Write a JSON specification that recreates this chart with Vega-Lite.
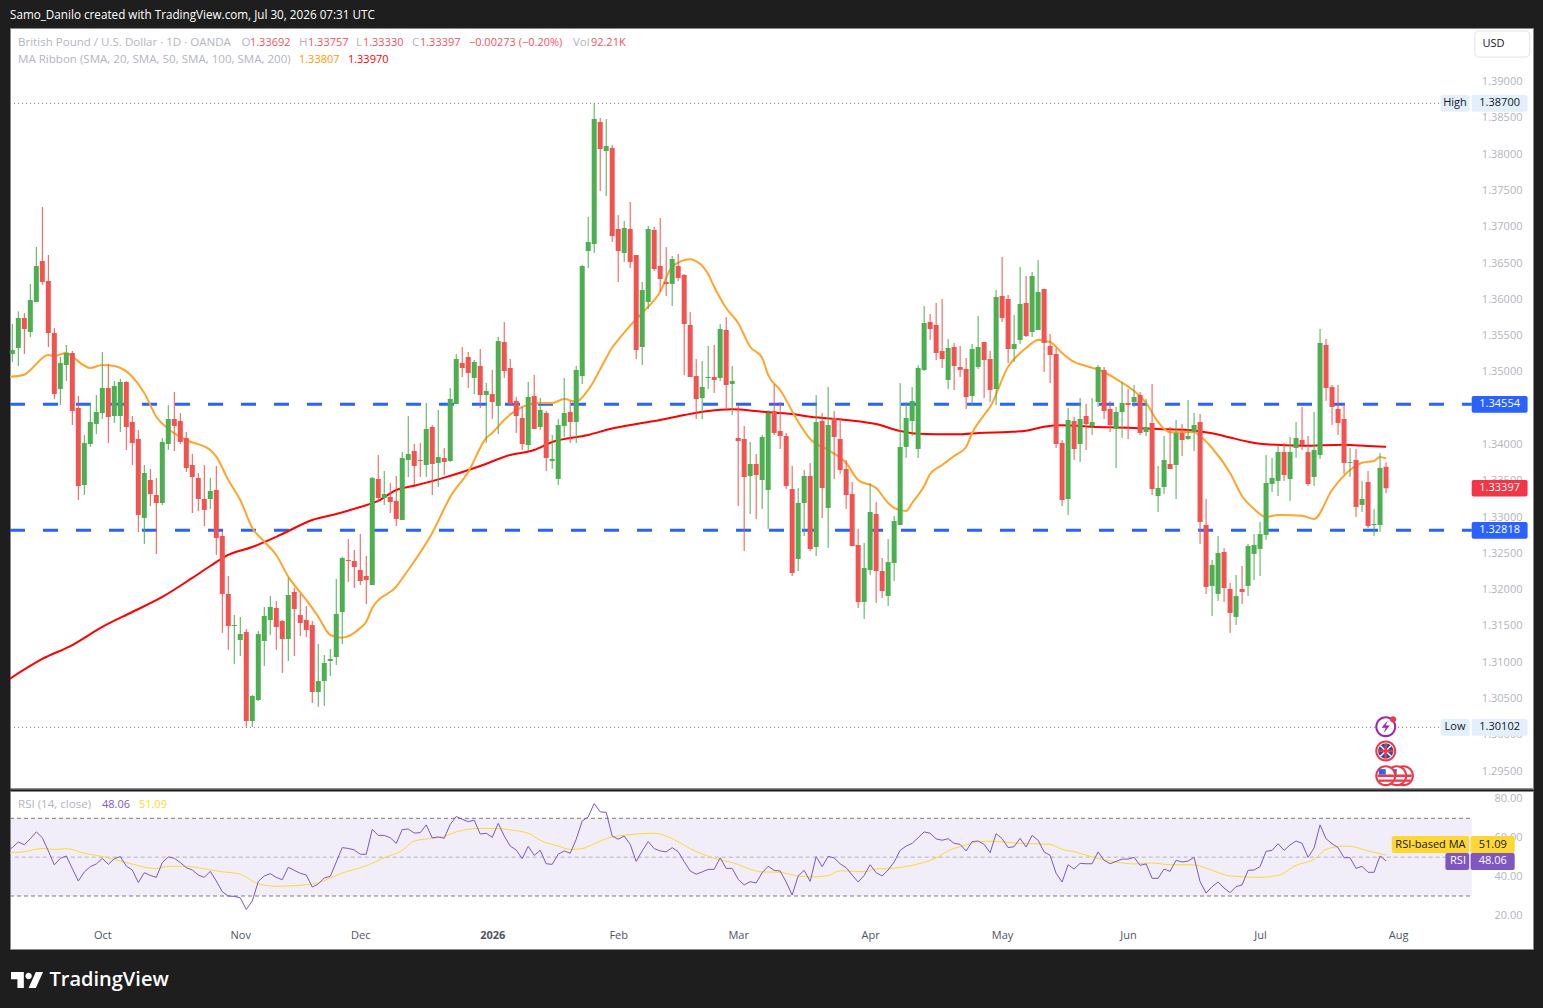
{
"$schema":"https://vega.github.io/schema/vega-lite/v6.json",
"background":"#1e1e1e",
"padding":{"left":7,"right":9,"top":9,"bottom":0},
"title":{"text":"Samo_Danilo created with TradingView.com, Jul 30, 2026 07:31 UTC","anchor":"start","frame":"group","color":"#ffffff","font":"Open Sans","fontSize":11.7,"fontWeight":"normal","offset":6},
"spacing":0,
"config":{"font":"Open Sans","axis":{"grid":false,"ticks":false,"domain":false},"axisX":{"labels":false},"concat":{"spacing":0},"text":{"font":"Open Sans","fontSize":11}},
"datasets":{
"candles":[
{"i":0,"open":1.35247,"high":1.3566,"low":1.35137,"close":1.35302},
{"i":1,"open":1.3533,"high":1.35835,"low":1.35082,"close":1.35743},
{"i":2,"open":1.35743,"high":1.35812,"low":1.35247,"close":1.35592},
{"i":3,"open":1.3555,"high":1.36212,"low":1.35481,"close":1.35991},
{"i":4,"open":1.35964,"high":1.36721,"low":1.35964,"close":1.3646},
{"i":5,"open":1.36528,"high":1.37273,"low":1.36198,"close":1.36239},
{"i":6,"open":1.36253,"high":1.36611,"low":1.35343,"close":1.35536},
{"i":7,"open":1.35536,"high":1.35605,"low":1.34627,"close":1.34696},
{"i":8,"open":1.34765,"high":1.35206,"low":1.34544,"close":1.35123},
{"i":9,"open":1.35095,"high":1.35371,"low":1.34875,"close":1.35261},
{"i":10,"open":1.35261,"high":1.35288,"low":1.34269,"close":1.34462},
{"i":11,"open":1.34503,"high":1.34668,"low":1.33235,"close":1.33428},
{"i":12,"open":1.33442,"high":1.34131,"low":1.33304,"close":1.34021},
{"i":13,"open":1.34007,"high":1.34572,"low":1.33966,"close":1.3431},
{"i":14,"open":1.34283,"high":1.34682,"low":1.34145,"close":1.34448},
{"i":15,"open":1.34434,"high":1.35275,"low":1.34351,"close":1.34779},
{"i":16,"open":1.34779,"high":1.35109,"low":1.34021,"close":1.34379},
{"i":17,"open":1.34393,"high":1.34875,"low":1.34296,"close":1.34806},
{"i":18,"open":1.34393,"high":1.34903,"low":1.34172,"close":1.34861},
{"i":19,"open":1.34861,"high":1.34875,"low":1.33924,"close":1.34241},
{"i":20,"open":1.3431,"high":1.34393,"low":1.33718,"close":1.34021},
{"i":21,"open":1.34076,"high":1.342,"low":1.32794,"close":1.33029},
{"i":22,"open":1.32987,"high":1.33718,"low":1.32629,"close":1.33607},
{"i":23,"open":1.33511,"high":1.33662,"low":1.33153,"close":1.33318},
{"i":24,"open":1.33304,"high":1.33538,"low":1.32491,"close":1.33194},
{"i":25,"open":1.33194,"high":1.3409,"low":1.33166,"close":1.34035},
{"i":26,"open":1.34007,"high":1.34544,"low":1.33924,"close":1.34351},
{"i":27,"open":1.34351,"high":1.34723,"low":1.3391,"close":1.34255},
{"i":28,"open":1.34324,"high":1.34434,"low":1.34007,"close":1.34035},
{"i":29,"open":1.3409,"high":1.34172,"low":1.33621,"close":1.33676},
{"i":30,"open":1.33718,"high":1.33869,"low":1.33056,"close":1.33552},
{"i":31,"open":1.33538,"high":1.33607,"low":1.33084,"close":1.33249},
{"i":32,"open":1.33249,"high":1.33718,"low":1.32877,"close":1.33098},
{"i":33,"open":1.33249,"high":1.33539,"low":1.33111,"close":1.33359},
{"i":34,"open":1.33373,"high":1.33704,"low":1.32478,"close":1.32712},
{"i":35,"open":1.32739,"high":1.32808,"low":1.31403,"close":1.3194},
{"i":36,"open":1.3194,"high":1.32188,"low":1.31169,"close":1.31499},
{"i":37,"open":1.31499,"high":1.31651,"low":1.30976,"close":1.31513},
{"i":38,"open":1.31306,"high":1.31623,"low":1.31086,"close":1.31389},
{"i":39,"open":1.31417,"high":1.31458,"low":1.30102,"close":1.3019},
{"i":40,"open":1.3019,"high":1.30549,"low":1.30108,"close":1.30535},
{"i":41,"open":1.3048,"high":1.3143,"low":1.30466,"close":1.31389},
{"i":42,"open":1.31292,"high":1.31761,"low":1.30948,"close":1.31637},
{"i":43,"open":1.31582,"high":1.31913,"low":1.31375,"close":1.31761},
{"i":44,"open":1.31747,"high":1.31844,"low":1.31169,"close":1.31485},
{"i":45,"open":1.31568,"high":1.31582,"low":1.30852,"close":1.3132},
{"i":46,"open":1.3132,"high":1.32161,"low":1.31017,"close":1.31926},
{"i":47,"open":1.31968,"high":1.32023,"low":1.31086,"close":1.31733},
{"i":48,"open":1.31651,"high":1.3194,"low":1.31361,"close":1.31541},
{"i":49,"open":1.31582,"high":1.31775,"low":1.31348,"close":1.31444},
{"i":50,"open":1.31513,"high":1.31568,"low":1.30438,"close":1.3059},
{"i":51,"open":1.3059,"high":1.31251,"low":1.30383,"close":1.30741},
{"i":52,"open":1.30741,"high":1.311,"low":1.30397,"close":1.30989},
{"i":53,"open":1.31017,"high":1.31182,"low":1.3081,"close":1.31045},
{"i":54,"open":1.31072,"high":1.32147,"low":1.30962,"close":1.31665},
{"i":55,"open":1.31692,"high":1.3245,"low":1.31251,"close":1.32436},
{"i":56,"open":1.32409,"high":1.32698,"low":1.32106,"close":1.32395},
{"i":57,"open":1.32395,"high":1.32546,"low":1.32023,"close":1.32312},
{"i":58,"open":1.32271,"high":1.32767,"low":1.32064,"close":1.32119},
{"i":59,"open":1.32188,"high":1.32464,"low":1.31802,"close":1.32133},
{"i":60,"open":1.32064,"high":1.33552,"low":1.32064,"close":1.33539},
{"i":61,"open":1.33525,"high":1.33855,"low":1.33222,"close":1.33263},
{"i":62,"open":1.33263,"high":1.33635,"low":1.33166,"close":1.33318},
{"i":63,"open":1.33277,"high":1.3347,"low":1.33056,"close":1.33208},
{"i":64,"open":1.33222,"high":1.33566,"low":1.32877,"close":1.32974},
{"i":65,"open":1.3296,"high":1.33897,"low":1.3296,"close":1.33814},
{"i":66,"open":1.33787,"high":1.34393,"low":1.33552,"close":1.33869},
{"i":67,"open":1.33911,"high":1.34007,"low":1.33442,"close":1.33704},
{"i":68,"open":1.33787,"high":1.34021,"low":1.33552,"close":1.33773},
{"i":69,"open":1.33718,"high":1.34572,"low":1.33552,"close":1.34214},
{"i":70,"open":1.34241,"high":1.34269,"low":1.33304,"close":1.33732},
{"i":71,"open":1.33745,"high":1.34476,"low":1.33415,"close":1.33828},
{"i":72,"open":1.33814,"high":1.33952,"low":1.3358,"close":1.33759},
{"i":73,"open":1.33773,"high":1.34779,"low":1.33759,"close":1.34627},
{"i":74,"open":1.34558,"high":1.35247,"low":1.34558,"close":1.35178},
{"i":75,"open":1.35123,"high":1.35344,"low":1.3493,"close":1.35054},
{"i":76,"open":1.35206,"high":1.35275,"low":1.34779,"close":1.34985},
{"i":77,"open":1.34917,"high":1.35165,"low":1.34696,"close":1.35137},
{"i":78,"open":1.35082,"high":1.35316,"low":1.34503,"close":1.34682},
{"i":79,"open":1.34682,"high":1.34848,"low":1.34021,"close":1.34737},
{"i":80,"open":1.34696,"high":1.35027,"low":1.34352,"close":1.34586},
{"i":81,"open":1.34531,"high":1.35482,"low":1.34145,"close":1.35426},
{"i":82,"open":1.35413,"high":1.35688,"low":1.34917,"close":1.35013},
{"i":83,"open":1.35054,"high":1.35178,"low":1.34545,"close":1.34558},
{"i":84,"open":1.346,"high":1.34655,"low":1.34159,"close":1.34393},
{"i":85,"open":1.34365,"high":1.34517,"low":1.33925,"close":1.34007},
{"i":86,"open":1.33993,"high":1.34861,"low":1.33911,"close":1.34655},
{"i":87,"open":1.34668,"high":1.34958,"low":1.34214,"close":1.34214},
{"i":88,"open":1.34241,"high":1.34641,"low":1.342,"close":1.34476},
{"i":89,"open":1.34434,"high":1.34462,"low":1.33635,"close":1.33814},
{"i":90,"open":1.33773,"high":1.34131,"low":1.33663,"close":1.338},
{"i":91,"open":1.33525,"high":1.34352,"low":1.33442,"close":1.34269},
{"i":92,"open":1.34255,"high":1.34917,"low":1.34104,"close":1.34434},
{"i":93,"open":1.34448,"high":1.346,"low":1.34021,"close":1.3431},
{"i":94,"open":1.3431,"high":1.35082,"low":1.34021,"close":1.35027},
{"i":95,"open":1.34944,"high":1.36474,"low":1.34834,"close":1.3646},
{"i":96,"open":1.36666,"high":1.37135,"low":1.36432,"close":1.3679},
{"i":97,"open":1.36763,"high":1.387,"low":1.36639,"close":1.38485},
{"i":98,"open":1.38444,"high":1.38499,"low":1.37493,"close":1.38072},
{"i":99,"open":1.38044,"high":1.38485,"low":1.37424,"close":1.38113},
{"i":100,"open":1.38086,"high":1.38127,"low":1.3679,"close":1.36873},
{"i":101,"open":1.36969,"high":1.37162,"low":1.36239,"close":1.36666},
{"i":102,"open":1.36639,"high":1.3708,"low":1.36515,"close":1.36983},
{"i":103,"open":1.36969,"high":1.37341,"low":1.36432,"close":1.36515},
{"i":104,"open":1.36611,"high":1.36611,"low":1.35178,"close":1.35302},
{"i":105,"open":1.35343,"high":1.36239,"low":1.35095,"close":1.36129},
{"i":106,"open":1.35964,"high":1.37011,"low":1.35867,"close":1.36969},
{"i":107,"open":1.36956,"high":1.36997,"low":1.36391,"close":1.36418},
{"i":108,"open":1.3646,"high":1.37121,"low":1.36101,"close":1.3628},
{"i":109,"open":1.36239,"high":1.36721,"low":1.36046,"close":1.36212},
{"i":110,"open":1.36212,"high":1.36597,"low":1.35908,"close":1.36556},
{"i":111,"open":1.3646,"high":1.36625,"low":1.36253,"close":1.36294},
{"i":112,"open":1.36336,"high":1.36349,"low":1.34958,"close":1.3566},
{"i":113,"open":1.35647,"high":1.35826,"low":1.3493,"close":1.3493},
{"i":114,"open":1.34944,"high":1.35178,"low":1.34351,"close":1.34627},
{"i":115,"open":1.34641,"high":1.35151,"low":1.34351,"close":1.34792},
{"i":116,"open":1.34916,"high":1.35357,"low":1.34765,"close":1.3493},
{"i":117,"open":1.3493,"high":1.35371,"low":1.3471,"close":1.34889},
{"i":118,"open":1.34916,"high":1.3566,"low":1.34875,"close":1.35592},
{"i":119,"open":1.35578,"high":1.35757,"low":1.34475,"close":1.3482},
{"i":120,"open":1.34834,"high":1.35082,"low":1.34407,"close":1.34875},
{"i":121,"open":1.3409,"high":1.34558,"low":1.33153,"close":1.34048},
{"i":122,"open":1.34076,"high":1.34255,"low":1.32533,"close":1.33552},
{"i":123,"open":1.33566,"high":1.34035,"low":1.33042,"close":1.33731},
{"i":124,"open":1.33731,"high":1.33869,"low":1.32974,"close":1.3358},
{"i":125,"open":1.33511,"high":1.34131,"low":1.33111,"close":1.34103},
{"i":126,"open":1.33373,"high":1.34475,"low":1.32836,"close":1.34434},
{"i":127,"open":1.34462,"high":1.34834,"low":1.34131,"close":1.34159},
{"i":128,"open":1.34186,"high":1.34586,"low":1.33938,"close":1.34117},
{"i":129,"open":1.34117,"high":1.34159,"low":1.33387,"close":1.33428},
{"i":130,"open":1.33387,"high":1.33704,"low":1.32188,"close":1.32229},
{"i":131,"open":1.32422,"high":1.334,"low":1.32257,"close":1.33194},
{"i":132,"open":1.33194,"high":1.33649,"low":1.32739,"close":1.33566},
{"i":133,"open":1.33566,"high":1.33745,"low":1.32532,"close":1.3256},
{"i":134,"open":1.32588,"high":1.34682,"low":1.32464,"close":1.3431},
{"i":135,"open":1.34324,"high":1.34434,"low":1.32987,"close":1.33401},
{"i":136,"open":1.33125,"high":1.34792,"low":1.32574,"close":1.34269},
{"i":137,"open":1.34365,"high":1.34462,"low":1.33525,"close":1.34103},
{"i":138,"open":1.34076,"high":1.34365,"low":1.33594,"close":1.33649},
{"i":139,"open":1.33662,"high":1.33786,"low":1.33111,"close":1.33304},
{"i":140,"open":1.33318,"high":1.33483,"low":1.32601,"close":1.32601},
{"i":141,"open":1.32615,"high":1.32836,"low":1.31747,"close":1.3183},
{"i":142,"open":1.3183,"high":1.32643,"low":1.31596,"close":1.32298},
{"i":143,"open":1.32271,"high":1.3347,"low":1.32202,"close":1.3307},
{"i":144,"open":1.33042,"high":1.33208,"low":1.31816,"close":1.32257},
{"i":145,"open":1.32257,"high":1.32436,"low":1.31885,"close":1.31981},
{"i":146,"open":1.31912,"high":1.32698,"low":1.31775,"close":1.32381},
{"i":147,"open":1.32367,"high":1.33015,"low":1.32119,"close":1.32946},
{"i":148,"open":1.32891,"high":1.34847,"low":1.32891,"close":1.33966},
{"i":149,"open":1.33966,"high":1.34586,"low":1.33814,"close":1.34365},
{"i":150,"open":1.34324,"high":1.34792,"low":1.34117,"close":1.34599},
{"i":151,"open":1.33938,"high":1.35095,"low":1.33814,"close":1.35054},
{"i":152,"open":1.35027,"high":1.35908,"low":1.35013,"close":1.35674},
{"i":153,"open":1.35688,"high":1.35798,"low":1.3544,"close":1.35591},
{"i":154,"open":1.35647,"high":1.3595,"low":1.35164,"close":1.35261},
{"i":155,"open":1.35288,"high":1.36005,"low":1.35054,"close":1.35178},
{"i":156,"open":1.34889,"high":1.35454,"low":1.34765,"close":1.3533},
{"i":157,"open":1.35343,"high":1.35399,"low":1.34751,"close":1.35082},
{"i":158,"open":1.35068,"high":1.35357,"low":1.3493,"close":1.35027},
{"i":159,"open":1.3504,"high":1.35192,"low":1.34489,"close":1.34654},
{"i":160,"open":1.34668,"high":1.35385,"low":1.34544,"close":1.35316},
{"i":161,"open":1.35068,"high":1.35771,"low":1.3504,"close":1.35343},
{"i":162,"open":1.35412,"high":1.35412,"low":1.34641,"close":1.35164},
{"i":163,"open":1.35178,"high":1.35288,"low":1.34586,"close":1.34751},
{"i":164,"open":1.34765,"high":1.36129,"low":1.34544,"close":1.36032},
{"i":165,"open":1.36046,"high":1.36584,"low":1.35688,"close":1.35743},
{"i":166,"open":1.36005,"high":1.3606,"low":1.35123,"close":1.35316},
{"i":167,"open":1.35316,"high":1.35784,"low":1.35137,"close":1.35385},
{"i":168,"open":1.3544,"high":1.36446,"low":1.35385,"close":1.35936},
{"i":169,"open":1.3595,"high":1.36322,"low":1.35481,"close":1.35495},
{"i":170,"open":1.3555,"high":1.36377,"low":1.35481,"close":1.36322},
{"i":171,"open":1.35578,"high":1.36542,"low":1.35578,"close":1.36101},
{"i":172,"open":1.36143,"high":1.36143,"low":1.34999,"close":1.35399},
{"i":173,"open":1.35357,"high":1.35523,"low":1.34847,"close":1.35233},
{"i":174,"open":1.35247,"high":1.3533,"low":1.33952,"close":1.34007},
{"i":175,"open":1.34021,"high":1.34062,"low":1.33153,"close":1.33235},
{"i":176,"open":1.33249,"high":1.34503,"low":1.33029,"close":1.34338},
{"i":177,"open":1.34324,"high":1.34379,"low":1.33786,"close":1.33938},
{"i":178,"open":1.34007,"high":1.34641,"low":1.33759,"close":1.34351},
{"i":179,"open":1.34393,"high":1.34558,"low":1.33924,"close":1.34282},
{"i":180,"open":1.34255,"high":1.34641,"low":1.34131,"close":1.3431},
{"i":181,"open":1.34586,"high":1.35095,"low":1.34517,"close":1.35068},
{"i":182,"open":1.35027,"high":1.35068,"low":1.34351,"close":1.34462},
{"i":183,"open":1.34489,"high":1.34599,"low":1.34172,"close":1.34269},
{"i":184,"open":1.34214,"high":1.34517,"low":1.33676,"close":1.34448},
{"i":185,"open":1.34448,"high":1.34861,"low":1.3409,"close":1.34572},
{"i":186,"open":1.34572,"high":1.34765,"low":1.34076,"close":1.34544},
{"i":187,"open":1.34586,"high":1.3482,"low":1.34517,"close":1.34654},
{"i":188,"open":1.34682,"high":1.34723,"low":1.34131,"close":1.34158},
{"i":189,"open":1.34172,"high":1.34627,"low":1.34117,"close":1.34241},
{"i":190,"open":1.34296,"high":1.34834,"low":1.33304,"close":1.33387},
{"i":191,"open":1.3329,"high":1.33704,"low":1.3307,"close":1.33401},
{"i":192,"open":1.33415,"high":1.34117,"low":1.33318,"close":1.33786},
{"i":193,"open":1.33731,"high":1.34241,"low":1.33662,"close":1.33662},
{"i":194,"open":1.33718,"high":1.34338,"low":1.33249,"close":1.34158},
{"i":195,"open":1.34158,"high":1.34282,"low":1.33842,"close":1.34062},
{"i":196,"open":1.34076,"high":1.34613,"low":1.34062,"close":1.34117},
{"i":197,"open":1.34172,"high":1.34434,"low":1.3391,"close":1.34269},
{"i":198,"open":1.3431,"high":1.3442,"low":1.32629,"close":1.32932},
{"i":199,"open":1.32891,"high":1.33249,"low":1.3194,"close":1.32037},
{"i":200,"open":1.32051,"high":1.32409,"low":1.31637,"close":1.3234},
{"i":201,"open":1.31941,"high":1.3274,"low":1.31844,"close":1.32506},
{"i":202,"open":1.32519,"high":1.32574,"low":1.3183,"close":1.32023},
{"i":203,"open":1.32009,"high":1.32092,"low":1.31403,"close":1.31679},
{"i":204,"open":1.31624,"high":1.32202,"low":1.31513,"close":1.31913},
{"i":205,"open":1.32009,"high":1.32326,"low":1.31803,"close":1.31968},
{"i":206,"open":1.32051,"high":1.3263,"low":1.31913,"close":1.32602},
{"i":207,"open":1.32492,"high":1.32767,"low":1.32133,"close":1.32616},
{"i":208,"open":1.32561,"high":1.32933,"low":1.32189,"close":1.32767},
{"i":209,"open":1.32754,"high":1.33856,"low":1.32685,"close":1.3347},
{"i":210,"open":1.33456,"high":1.33815,"low":1.33346,"close":1.33539},
{"i":211,"open":1.33498,"high":1.3398,"low":1.33291,"close":1.33897},
{"i":212,"open":1.33897,"high":1.34021,"low":1.33498,"close":1.3358},
{"i":213,"open":1.33525,"high":1.34104,"low":1.33222,"close":1.33897},
{"i":214,"open":1.33952,"high":1.34311,"low":1.33815,"close":1.3409},
{"i":215,"open":1.34063,"high":1.34517,"low":1.33925,"close":1.33994},
{"i":216,"open":1.33897,"high":1.34118,"low":1.33429,"close":1.33456},
{"i":217,"open":1.33553,"high":1.34448,"low":1.33429,"close":1.33925},
{"i":218,"open":1.33856,"high":1.35592,"low":1.33801,"close":1.35399},
{"i":219,"open":1.35372,"high":1.35454,"low":1.346,"close":1.34779},
{"i":220,"open":1.34793,"high":1.3482,"low":1.34269,"close":1.34517},
{"i":221,"open":1.3449,"high":1.3482,"low":1.34131,"close":1.34297},
{"i":222,"open":1.34352,"high":1.34559,"low":1.33594,"close":1.33746},
{"i":223,"open":1.33746,"high":1.33952,"low":1.33553,"close":1.33759},
{"i":224,"open":1.33787,"high":1.33939,"low":1.33002,"close":1.33139},
{"i":225,"open":1.33167,"high":1.33498,"low":1.3307,"close":1.3325},
{"i":226,"open":1.33484,"high":1.33635,"low":1.3285,"close":1.32878},
{"i":227,"open":1.32891,"high":1.33112,"low":1.3274,"close":1.32905},
{"i":228,"open":1.32891,"high":1.33883,"low":1.32795,"close":1.33677},
{"i":229,"open":1.33692,"high":1.33757,"low":1.3333,"close":1.33397}
],
"ma200":[
{"i":-1,"v":1.30741},{"i":5,"v":1.31045},{"i":10,"v":1.31237},{"i":15,"v":1.31486},{"i":20,"v":1.31692},{"i":25,"v":1.31899},{"i":30,"v":1.32161},{"i":33,"v":1.32326},{"i":36,"v":1.32478},{"i":40,"v":1.32588},{"i":45,"v":1.32767},{"i":50,"v":1.3296},{"i":54,"v":1.33042},{"i":58,"v":1.33139},{"i":61,"v":1.33222},{"i":64,"v":1.33373},{"i":67,"v":1.33432},{"i":72,"v":1.33543},{"i":78,"v":1.33704},{"i":83,"v":1.33855},{"i":87,"v":1.33924},{"i":90,"v":1.34034},{"i":96,"v":1.34131},{"i":100,"v":1.3422},{"i":104,"v":1.34282},{"i":108,"v":1.34338},{"i":112,"v":1.34406},{"i":116,"v":1.34462},{"i":120,"v":1.34485},{"i":125,"v":1.34452},{"i":130,"v":1.3442},{"i":133,"v":1.34383},{"i":139,"v":1.34338},{"i":144,"v":1.34282},{"i":148,"v":1.34186},{"i":151,"v":1.34149},{"i":157,"v":1.34141},{"i":162,"v":1.34163},{"i":166,"v":1.34172},{"i":169,"v":1.3419},{"i":172,"v":1.34245},{"i":175,"v":1.34265},{"i":180,"v":1.34245},{"i":186,"v":1.34231},{"i":191,"v":1.34214},{"i":196,"v":1.342},{"i":200,"v":1.34154},{"i":203,"v":1.34096},{"i":206,"v":1.34039},{"i":209,"v":1.34003},{"i":215,"v":1.33983},{"i":222,"v":1.33997},{"i":226,"v":1.33979},{"i":229,"v":1.3397}
],
"ma20":[
{"i":-1,"v":1.3493},{"i":2,"v":1.34962},{"i":3,"v":1.35026},{"i":6,"v":1.35233},{"i":7,"v":1.35219},{"i":9,"v":1.35265},{"i":10,"v":1.3521},{"i":13,"v":1.35054},{"i":15,"v":1.35095},{"i":17,"v":1.35082},{"i":20,"v":1.34934},{"i":22,"v":1.3471},{"i":24,"v":1.34383},{"i":26,"v":1.34214},{"i":29,"v":1.34062},{"i":33,"v":1.33924},{"i":34,"v":1.33832},{"i":36,"v":1.33511},{"i":38,"v":1.33235},{"i":40,"v":1.3285},{"i":42,"v":1.32661},{"i":44,"v":1.32478},{"i":46,"v":1.32179},{"i":49,"v":1.31858},{"i":51,"v":1.31627},{"i":53,"v":1.31375},{"i":55,"v":1.31338},{"i":58,"v":1.31472},{"i":59,"v":1.31559},{"i":60,"v":1.31747},{"i":64,"v":1.32041},{"i":66,"v":1.32271},{"i":70,"v":1.32781},{"i":73,"v":1.33277},{"i":76,"v":1.33621},{"i":79,"v":1.3409},{"i":80,"v":1.34158},{"i":82,"v":1.34338},{"i":84,"v":1.34475},{"i":88,"v":1.34572},{"i":90,"v":1.34572},{"i":92,"v":1.34627},{"i":94,"v":1.3459},{"i":96,"v":1.34751},{"i":99,"v":1.35192},{"i":100,"v":1.35336},{"i":101,"v":1.3544},{"i":103,"v":1.35637},{"i":105,"v":1.35812},{"i":108,"v":1.36105},{"i":110,"v":1.3645},{"i":113,"v":1.36552},{"i":114,"v":1.36528},{"i":116,"v":1.36349},{"i":117,"v":1.36174},{"i":119,"v":1.35881},{"i":121,"v":1.35674},{"i":123,"v":1.35347},{"i":125,"v":1.35192},{"i":126,"v":1.34958},{"i":128,"v":1.34751},{"i":131,"v":1.34314},{"i":133,"v":1.34076},{"i":136,"v":1.33924},{"i":139,"v":1.33745},{"i":141,"v":1.33511},{"i":144,"v":1.33401},{"i":146,"v":1.33194},{"i":147,"v":1.33125},{"i":149,"v":1.33084},{"i":150,"v":1.33194},{"i":152,"v":1.33428},{"i":153,"v":1.33594},{"i":155,"v":1.33718},{"i":157,"v":1.33842},{"i":159,"v":1.33966},{"i":160,"v":1.34158},{"i":162,"v":1.34406},{"i":163,"v":1.34517},{"i":166,"v":1.35072},{"i":168,"v":1.35261},{"i":169,"v":1.3533},{"i":171,"v":1.3544},{"i":173,"v":1.35412},{"i":175,"v":1.35261},{"i":177,"v":1.35137},{"i":179,"v":1.35082},{"i":182,"v":1.34999},{"i":184,"v":1.34902},{"i":187,"v":1.34737},{"i":189,"v":1.34572},{"i":191,"v":1.3431},{"i":193,"v":1.34168},{"i":197,"v":1.34172},{"i":198,"v":1.34117},{"i":200,"v":1.33952},{"i":203,"v":1.33607},{"i":205,"v":1.3329},{"i":207,"v":1.33111},{"i":209,"v":1.33001},{"i":211,"v":1.33029},{"i":215,"v":1.33019},{"i":217,"v":1.32974},{"i":220,"v":1.33373},{"i":223,"v":1.33649},{"i":225,"v":1.33749},{"i":227,"v":1.33773},{"i":228,"v":1.33828},{"i":229,"v":1.33807}
],
"rsi":[
{"i":-1,"v":53.5},{"i":0,"v":54.9},{"i":1,"v":57.8},{"i":2,"v":56.4},{"i":3,"v":59.5},{"i":4,"v":63.0},{"i":5,"v":60.0},{"i":6,"v":53.2},{"i":7,"v":46.0},{"i":8,"v":49.4},{"i":9,"v":50.6},{"i":10,"v":44.1},{"i":11,"v":37.7},{"i":12,"v":42.4},{"i":13,"v":45.1},{"i":14,"v":46.5},{"i":15,"v":49.4},{"i":16,"v":46.3},{"i":17,"v":49.2},{"i":18,"v":50.3},{"i":19,"v":45.4},{"i":20,"v":43.4},{"i":21,"v":36.9},{"i":22,"v":42.0},{"i":23,"v":40.6},{"i":24,"v":39.6},{"i":25,"v":47.2},{"i":26,"v":50.1},{"i":27,"v":49.4},{"i":28,"v":47.2},{"i":29,"v":44.6},{"i":30,"v":43.4},{"i":31,"v":40.8},{"i":32,"v":39.6},{"i":33,"v":42.7},{"i":34,"v":37.7},{"i":35,"v":32.2},{"i":36,"v":30.0},{"i":37,"v":29.8},{"i":38,"v":29.1},{"i":39,"v":23.1},{"i":40,"v":27.4},{"i":41,"v":37.5},{"i":42,"v":40.3},{"i":43,"v":41.5},{"i":44,"v":39.6},{"i":45,"v":38.4},{"i":46,"v":44.8},{"i":47,"v":43.2},{"i":48,"v":41.7},{"i":49,"v":40.8},{"i":50,"v":34.6},{"i":51,"v":36.2},{"i":52,"v":39.3},{"i":53,"v":40.1},{"i":54,"v":47.5},{"i":55,"v":54.9},{"i":56,"v":54.5},{"i":57,"v":53.7},{"i":58,"v":51.5},{"i":59,"v":51.5},{"i":60,"v":64.3},{"i":61,"v":61.2},{"i":62,"v":61.2},{"i":63,"v":60.0},{"i":64,"v":57.1},{"i":65,"v":64.2},{"i":66,"v":64.5},{"i":67,"v":62.4},{"i":68,"v":62.6},{"i":69,"v":66.6},{"i":70,"v":59.9},{"i":71,"v":60.4},{"i":72,"v":59.7},{"i":73,"v":66.9},{"i":74,"v":70.9},{"i":75,"v":69.5},{"i":76,"v":68.3},{"i":77,"v":69.0},{"i":78,"v":61.9},{"i":79,"v":62.3},{"i":80,"v":60.2},{"i":81,"v":67.4},{"i":82,"v":60.9},{"i":83,"v":55.7},{"i":84,"v":53.7},{"i":85,"v":49.2},{"i":86,"v":55.6},{"i":87,"v":50.9},{"i":88,"v":53.5},{"i":89,"v":46.6},{"i":90,"v":46.3},{"i":91,"v":51.5},{"i":92,"v":53.2},{"i":93,"v":52.0},{"i":94,"v":59.2},{"i":95,"v":68.6},{"i":96,"v":70.7},{"i":97,"v":77.6},{"i":98,"v":73.3},{"i":99,"v":73.1},{"i":100,"v":60.9},{"i":101,"v":59.2},{"i":102,"v":60.9},{"i":103,"v":56.6},{"i":104,"v":47.8},{"i":105,"v":53.2},{"i":106,"v":58.0},{"i":107,"v":54.4},{"i":108,"v":53.2},{"i":109,"v":52.7},{"i":110,"v":54.9},{"i":111,"v":52.8},{"i":112,"v":47.7},{"i":113,"v":42.9},{"i":114,"v":41.2},{"i":115,"v":42.4},{"i":116,"v":43.7},{"i":117,"v":43.7},{"i":118,"v":49.7},{"i":119,"v":44.2},{"i":120,"v":44.2},{"i":121,"v":38.6},{"i":122,"v":35.7},{"i":123,"v":37.4},{"i":124,"v":36.7},{"i":125,"v":42.0},{"i":126,"v":45.3},{"i":127,"v":43.2},{"i":128,"v":42.9},{"i":129,"v":37.2},{"i":130,"v":30.5},{"i":131,"v":40.3},{"i":132,"v":43.2},{"i":133,"v":37.5},{"i":134,"v":50.3},{"i":135,"v":45.1},{"i":136,"v":50.4},{"i":137,"v":49.6},{"i":138,"v":46.6},{"i":139,"v":44.6},{"i":140,"v":40.8},{"i":141,"v":37.2},{"i":142,"v":40.6},{"i":143,"v":46.1},{"i":144,"v":42.0},{"i":145,"v":40.3},{"i":146,"v":43.4},{"i":147,"v":47.5},{"i":148,"v":53.5},{"i":149,"v":55.7},{"i":150,"v":57.1},{"i":151,"v":60.0},{"i":152,"v":63.0},{"i":153,"v":62.3},{"i":154,"v":59.4},{"i":155,"v":58.7},{"i":156,"v":59.5},{"i":157,"v":57.1},{"i":158,"v":56.6},{"i":159,"v":53.2},{"i":160,"v":58.0},{"i":161,"v":58.3},{"i":162,"v":56.6},{"i":163,"v":52.3},{"i":164,"v":62.1},{"i":165,"v":59.5},{"i":166,"v":54.9},{"i":167,"v":55.4},{"i":168,"v":59.7},{"i":169,"v":55.2},{"i":170,"v":61.2},{"i":171,"v":58.7},{"i":172,"v":52.7},{"i":173,"v":50.9},{"i":174,"v":41.7},{"i":175,"v":37.2},{"i":176,"v":46.1},{"i":177,"v":43.9},{"i":178,"v":46.8},{"i":179,"v":46.6},{"i":180,"v":46.6},{"i":181,"v":52.7},{"i":182,"v":48.4},{"i":183,"v":46.6},{"i":184,"v":47.8},{"i":185,"v":49.0},{"i":186,"v":49.0},{"i":187,"v":49.9},{"i":188,"v":45.8},{"i":189,"v":46.5},{"i":190,"v":39.1},{"i":191,"v":39.1},{"i":192,"v":43.9},{"i":193,"v":42.7},{"i":194,"v":48.4},{"i":195,"v":47.5},{"i":196,"v":48.0},{"i":197,"v":49.9},{"i":198,"v":37.4},{"i":199,"v":31.5},{"i":200,"v":34.8},{"i":201,"v":37.2},{"i":202,"v":34.1},{"i":203,"v":31.7},{"i":204,"v":34.8},{"i":205,"v":35.7},{"i":206,"v":43.2},{"i":207,"v":43.4},{"i":208,"v":45.1},{"i":209,"v":53.0},{"i":210,"v":53.5},{"i":211,"v":56.9},{"i":212,"v":53.5},{"i":213,"v":56.3},{"i":214,"v":58.3},{"i":215,"v":57.1},{"i":216,"v":49.9},{"i":217,"v":54.7},{"i":218,"v":66.6},{"i":219,"v":59.5},{"i":220,"v":56.9},{"i":221,"v":54.9},{"i":222,"v":49.7},{"i":223,"v":49.7},{"i":224,"v":44.2},{"i":225,"v":45.3},{"i":226,"v":42.2},{"i":227,"v":42.2},{"i":228,"v":50.6},{"i":229,"v":48.06}
],
"rsiMa":[
{"i":-1,"v":52.1},{"i":2,"v":52.8},{"i":5,"v":54.5},{"i":7,"v":53.9},{"i":9,"v":54.4},{"i":12,"v":52.0},{"i":15,"v":50.3},{"i":19,"v":47.2},{"i":24,"v":44.1},{"i":26,"v":45.3},{"i":29,"v":45.3},{"i":33,"v":43.4},{"i":35,"v":42.5},{"i":38,"v":41.2},{"i":41,"v":36.3},{"i":44,"v":35.0},{"i":47,"v":35.3},{"i":51,"v":36.9},{"i":55,"v":41.8},{"i":59,"v":45.6},{"i":62,"v":49.7},{"i":65,"v":53.5},{"i":67,"v":58.3},{"i":70,"v":59.7},{"i":72,"v":60.7},{"i":74,"v":63.0},{"i":78,"v":64.8},{"i":81,"v":64.7},{"i":83,"v":64.0},{"i":86,"v":62.3},{"i":88,"v":58.7},{"i":91,"v":55.7},{"i":93,"v":54.0},{"i":95,"v":54.4},{"i":97,"v":56.9},{"i":99,"v":59.5},{"i":103,"v":61.6},{"i":107,"v":62.3},{"i":110,"v":59.5},{"i":113,"v":54.4},{"i":117,"v":49.4},{"i":120,"v":47.2},{"i":125,"v":42.4},{"i":128,"v":42.2},{"i":130,"v":40.8},{"i":133,"v":39.8},{"i":136,"v":40.5},{"i":138,"v":43.0},{"i":142,"v":42.5},{"i":144,"v":43.9},{"i":146,"v":44.1},{"i":151,"v":46.5},{"i":154,"v":49.6},{"i":156,"v":53.2},{"i":159,"v":56.3},{"i":161,"v":58.0},{"i":163,"v":58.2},{"i":168,"v":57.1},{"i":173,"v":56.6},{"i":175,"v":54.0},{"i":177,"v":52.8},{"i":180,"v":50.1},{"i":184,"v":47.5},{"i":187,"v":46.5},{"i":190,"v":47.0},{"i":193,"v":46.1},{"i":197,"v":46.0},{"i":200,"v":43.2},{"i":203,"v":40.3},{"i":208,"v":39.6},{"i":211,"v":40.6},{"i":214,"v":45.8},{"i":217,"v":48.9},{"i":219,"v":54.0},{"i":222,"v":55.7},{"i":223,"v":55.6},{"i":226,"v":53.2},{"i":229,"v":51.09}
],
"levels":[{"name":"High","price":1.387},{"name":"Low","price":1.30102}],
"keyLevels":[{"price":1.34554},{"price":1.32818}],
"tags":[
{"from":243.28,"to":252.6,"mid":247.94,"price":1.34554,"text":"1.34554","tone":"blue","ink":"white"},
{"from":243.28,"to":252.6,"mid":247.94,"price":1.33397,"text":"1.33397","tone":"red","ink":"white"},
{"from":243.28,"to":252.6,"mid":247.94,"price":1.32818,"text":"1.32818","tone":"blue","ink":"white"},
{"from":243.28,"to":252.6,"mid":247.94,"price":1.387,"text":"1.38700","tone":"pale","ink":"dark"},
{"from":243.28,"to":252.6,"mid":247.94,"price":1.30102,"text":"1.30102","tone":"pale","ink":"dark"},
{"from":238.1,"to":242.95,"mid":240.5,"price":1.387,"text":"High","tone":"pale","ink":"dark"},
{"from":238.1,"to":242.95,"mid":240.5,"price":1.30102,"text":"Low","tone":"pale","ink":"dark"}
],
"rsiTags":[
{"from":229.95,"to":242.85,"mid":236.4,"value":56.5,"text":"RSI-based MA","tone":"yellow","ink":"dark"},
{"from":243.1,"to":250.45,"mid":246.8,"value":56.5,"text":"51.09","tone":"yellow","ink":"dark"},
{"from":238.9,"to":242.85,"mid":241,"value":47.8,"text":"RSI","tone":"purple","ink":"white"},
{"from":243.1,"to":250.45,"mid":246.8,"value":47.8,"text":"48.06","tone":"purple","ink":"white"}
],
"header":[
{"bar":0.95,"price":1.39535,"text":"British Pound / U.S. Dollar · 1D · OANDA","tone":"grey"},
{"bar":38.21,"price":1.39535,"text":"O","tone":"grey"},
{"bar":39.61,"price":1.39535,"text":"1.33692","tone":"red"},
{"bar":47.78,"price":1.39535,"text":"H","tone":"grey"},
{"bar":49.28,"price":1.39535,"text":"1.33757","tone":"red"},
{"bar":57.28,"price":1.39535,"text":"L","tone":"grey"},
{"bar":58.44,"price":1.39535,"text":"1.33330","tone":"red"},
{"bar":66.61,"price":1.39535,"text":"C","tone":"grey"},
{"bar":67.95,"price":1.39535,"text":"1.33397","tone":"red"},
{"bar":76.11,"price":1.39535,"text":"−0.00273 (−0.20%)","tone":"red"},
{"bar":93.45,"price":1.39535,"text":"Vol","tone":"grey"},
{"bar":96.45,"price":1.39535,"text":"92.21K","tone":"red"},
{"bar":0.95,"price":1.39303,"text":"MA Ribbon (SMA, 20, SMA, 50, SMA, 100, SMA, 200)","tone":"grey"},
{"bar":47.78,"price":1.39303,"text":"1.33807","tone":"orange"},
{"bar":55.94,"price":1.39303,"text":"1.33970","tone":"pure"}
],
"rsiHeader":[
{"bar":0.95,"value":76.6,"text":"RSI (14, close)","tone":"grey"},
{"bar":14.95,"value":76.6,"text":"48.06","tone":"purple"},
{"bar":21.1,"value":76.6,"text":"51.09","tone":"yellow"}
],
"icons":[
{"bar":231.9,"price":1.29437,"part":"ringRed"},{"bar":231.9,"price":1.29437,"part":"disc"},{"bar":231.9,"price":1.29437,"part":"usRed"},{"bar":231.9,"price":1.29437,"part":"usBlue"},
{"bar":230.78,"price":1.29437,"part":"ringRed"},{"bar":230.78,"price":1.29437,"part":"disc"},{"bar":230.78,"price":1.29437,"part":"usRed"},{"bar":230.78,"price":1.29437,"part":"usBlue"},
{"bar":228.95,"price":1.29437,"part":"ringRed"},{"bar":228.95,"price":1.29437,"part":"disc"},{"bar":228.95,"price":1.29437,"part":"usRed"},{"bar":228.95,"price":1.29437,"part":"usBlue"},
{"bar":228.95,"price":1.29777,"part":"ringRed"},{"bar":228.95,"price":1.29777,"part":"disc"},{"bar":228.95,"price":1.29777,"part":"ukBlue"},{"bar":228.95,"price":1.29777,"part":"ukWhite"},{"bar":228.95,"price":1.29777,"part":"ukRed"},
{"bar":228.95,"price":1.30112,"part":"ringPurple"},{"bar":228.95,"price":1.30112,"part":"disc"},{"bar":228.95,"price":1.30112,"part":"bolt"},{"bar":228.95,"price":1.30112,"part":"dot"}
]
},
"vconcat":[
{
"width":1523,"height":761,
"view":{"fill":"#ffffff","stroke":"#8a8a8a"},
"layer":[
{"data":{"name":"levels"},"mark":{"type":"rule","stroke":"#787b86","strokeDash":[1,3],"strokeWidth":1},
"encoding":{"x":{"datum":-0.39,"type":"quantitative","scale":{"domain":[-0.388,253.5],"nice":false,"zero":false,"padding":0},"axis":{"title":null,"labels":false}},"x2":{"datum":238.1},
"y":{"field":"price","type":"quantitative","scale":{"domain":[1.29253,1.39739],"nice":false,"zero":false,"padding":0},
"axis":{"orient":"right","values":[1.295,1.3,1.305,1.31,1.315,1.32,1.325,1.33,1.335,1.34,1.345,1.35,1.355,1.36,1.365,1.37,1.375,1.38,1.385,1.39],"format":".5f","labelAlign":"right","labelPadding":-11,"labelColor":"#b2b5be","labelFont":"Open Sans","labelFontSize":11,"labelBound":false,"labelOverlap":false,"labelFlush":false,"title":null}}}},
{"data":{"name":"keyLevels"},"mark":{"type":"rule","stroke":"#2962ff","strokeDash":[15,18],"strokeWidth":3},
"encoding":{"x":{"datum":-0.39,"type":"quantitative"},"x2":{"datum":243.3},"y":{"field":"price","type":"quantitative"}}},
{"data":{"name":"ma200"},"mark":{"type":"line","stroke":"#ff0000","strokeWidth":2,"clip":true,"interpolate":"monotone"},
"encoding":{"x":{"field":"i","type":"quantitative"},"y":{"field":"v","type":"quantitative"}}},
{"data":{"name":"ma20"},"mark":{"type":"line","stroke":"#ffa52b","strokeWidth":2,"clip":true,"interpolate":"monotone"},
"encoding":{"x":{"field":"i","type":"quantitative"},"y":{"field":"v","type":"quantitative"}}},
{"data":{"name":"candles"},"mark":{"type":"rule","strokeWidth":1},
"encoding":{"x":{"field":"i","type":"quantitative"},"y":{"field":"low","type":"quantitative"},"y2":{"field":"high"},
"color":{"condition":{"test":"datum.close>=datum.open","value":"#4caf50"},"value":"#f05350"}}},
{"data":{"name":"candles"},"mark":{"type":"bar","width":5},
"encoding":{"x":{"field":"i","type":"quantitative"},"y":{"field":"open","type":"quantitative"},"y2":{"field":"close"},
"color":{"condition":{"test":"datum.close>=datum.open","value":"#4caf50"},"value":"#f05350"}}},
{"data":{"values":[{"edge":1.29253}]},"mark":{"type":"rule","stroke":"#222222","strokeWidth":1},
"encoding":{"x":{"datum":-0.388,"type":"quantitative"},"x2":{"datum":253.5},"y":{"field":"edge","type":"quantitative"}}},
{"data":{"name":"tags"},"mark":{"type":"bar","height":16.7,"cornerRadius":2},
"encoding":{"x":{"field":"from","type":"quantitative"},"x2":{"field":"to"},"y":{"field":"price","type":"quantitative"},
"fill":{"field":"tone","type":"nominal","legend":null,"scale":{"domain":["blue","red","pale","yellow","purple","ringRed","ringPurple","disc","usRed","usBlue","ukBlue","ukWhite","ukRed","bolt","dot"],"range":["#2962ff","#f23645","#e3effd","#fdd835","#7e57c2","#f23645","#9c27b0","#ffffff","#f23645","#2962ff","#1e4fa3","#ffffff","#f23645","#9c27b0","#f23645"]}}}},
{"data":{"name":"tags"},"mark":{"type":"text","align":"center","baseline":"middle","font":"Open Sans","fontSize":11},
"encoding":{"x":{"field":"mid","type":"quantitative"},"y":{"field":"price","type":"quantitative"},"text":{"field":"text"},
"color":{"field":"ink","type":"nominal","legend":null,"scale":{"domain":["white","dark","grey","red","orange","pure","purple","yellow"],"range":["#ffffff","#131722","#b2b5be","#f7525f","#ff9800","#ff0000","#7e57c2","#fdd835"]}}}},
{"data":{"name":"header"},"mark":{"type":"text","align":"left","baseline":"middle","font":"Open Sans"},
"encoding":{"x":{"field":"bar","type":"quantitative"},"y":{"field":"price","type":"quantitative"},"text":{"field":"text"},
"size":{"condition":{"test":"datum.tone=='grey'","value":11.55},"value":11},
"color":{"field":"tone","type":"nominal","legend":null,"scale":{"domain":["white","dark","grey","red","orange","pure","purple","yellow"],"range":["#ffffff","#131722","#b2b5be","#f7525f","#ff9800","#ff0000","#7e57c2","#fdd835"]}}}},
{"data":{"values":[{"text":"USD"}]},"mark":{"type":"rect","fill":"#ffffff","stroke":"#e0e3eb","cornerRadius":4},
"encoding":{"x":{"datum":243.8,"type":"quantitative"},"x2":{"datum":252.95},"y":{"datum":1.39698,"type":"quantitative"},"y2":{"datum":1.39339}}},
{"data":{"values":[{"text":"USD"}]},"mark":{"type":"text","align":"center","baseline":"middle","font":"Open Sans","fontSize":11,"color":"#131722"},
"encoding":{"x":{"datum":246.9,"type":"quantitative"},"y":{"datum":1.39519,"type":"quantitative"},"text":{"field":"text"}}},
{"data":{"name":"icons"},"mark":{"type":"point","filled":true,"size":441,"opacity":1,"strokeWidth":0},
"encoding":{"x":{"field":"bar","type":"quantitative"},"y":{"field":"price","type":"quantitative"},
"fill":{"field":"part","type":"nominal","legend":null,"scale":{"domain":["blue","red","pale","yellow","purple","ringRed","ringPurple","disc","usRed","usBlue","ukBlue","ukWhite","ukRed","bolt","dot"],"range":["#2962ff","#f23645","#e3effd","#fdd835","#7e57c2","#f23645","#9c27b0","#ffffff","#f23645","#2962ff","#1e4fa3","#ffffff","#f23645","#9c27b0","#f23645"]}},
"shape":{"field":"part","type":"nominal","legend":null,"scale":{"domain":["ringRed","ringPurple","disc","usRed","usBlue","ukBlue","ukWhite","ukRed","bolt","dot"],"range":["M-1 0A1 1 0 1 1 1 0A1 1 0 1 1 -1 0Z","M-1 0A1 1 0 1 1 1 0A1 1 0 1 1 -1 0Z","M-.8 0A.8 .8 0 1 1 .8 0A.8 .8 0 1 1 -.8 0Z","M-.78 -.1H.78V.12H-.78Z M-.68 .36H.68V.58H-.68Z","M-.66 -.62H0V-.1H-.66Z","M-.72 0A.72 .72 0 1 1 .72 0A.72 .72 0 1 1 -.72 0Z","M-.55 -.45L-.45 -.55L.55 .45L.45 .55Z M.45 -.55L.55 -.45L-.45 .55L-.55 .45Z","M-.12 -.72H.12V-.12H.72V.12H.12V.72H-.12V.12H-.72V-.12H-.12Z","M.2 -.6L-.4 .1H0L-.2 .6L.4 -.1H0Z","M.4 -.7A.3 .3 0 1 1 1 -.7A.3 .3 0 1 1 .4 -.7Z"]}}}}
]
},
{
"width":1523,"height":158,
"view":{"fill":"#ffffff","stroke":"#8a8a8a"},
"layer":[
{"data":{"values":[{"band":"RSI"}]},"mark":{"type":"rect","fill":"#7e57c2","opacity":0.1},
"encoding":{"x":{"datum":-0.39,"type":"quantitative","scale":{"domain":[-0.388,253.5],"nice":false,"zero":false,"padding":0},
"axis":{"orient":"bottom","labels":true,"values":[15,38,58,80,101,121,143,165,186,208,231],"labelExpr":"{'15':'Oct','38':'Nov','58':'Dec','80':'2026','101':'Feb','121':'Mar','143':'Apr','165':'May','186':'Jun','208':'Jul','231':'Aug'}[datum.value]","labelColor":"#50535e","labelFont":"Open Sans","labelFontSize":11,"labelFontWeight":{"condition":{"test":"datum.value==80","value":"bold"},"value":"normal"},"labelPadding":-20,"labelOverlap":false,"labelBound":false,"labelFlush":false,"title":null}},
"x2":{"datum":243.3},
"y":{"datum":70,"type":"quantitative","scale":{"domain":[2.72,84.05],"nice":false,"zero":false,"padding":0},
"axis":{"orient":"right","values":[20,40,60,80],"format":".2f","labelAlign":"right","labelPadding":-11,"labelColor":"#b2b5be","labelFont":"Open Sans","labelFontSize":11,"labelBound":false,"labelOverlap":false,"labelFlush":false,"title":null}},
"y2":{"datum":30}}},
{"data":{"values":[{"level":70},{"level":30}]},"mark":{"type":"rule","stroke":"#787b86","strokeDash":[4,3],"strokeWidth":1},
"encoding":{"x":{"datum":-0.39,"type":"quantitative"},"x2":{"datum":243.3},"y":{"field":"level","type":"quantitative"}}},
{"data":{"values":[{"level":50}]},"mark":{"type":"rule","stroke":"#b2b5be","strokeDash":[4,3],"strokeWidth":1},
"encoding":{"x":{"datum":0.4,"type":"quantitative"},"x2":{"datum":243.3},"y":{"field":"level","type":"quantitative"}}},
{"data":{"name":"rsiMa"},"mark":{"type":"line","stroke":"#fdd835","strokeWidth":1,"clip":true,"interpolate":"monotone"},
"encoding":{"x":{"field":"i","type":"quantitative"},"y":{"field":"v","type":"quantitative"}}},
{"data":{"name":"rsi"},"mark":{"type":"line","stroke":"#7e57c2","strokeWidth":1,"clip":true},
"encoding":{"x":{"field":"i","type":"quantitative"},"y":{"field":"v","type":"quantitative"}}},
{"data":{"name":"rsiTags"},"mark":{"type":"bar","height":17,"cornerRadius":2},
"encoding":{"x":{"field":"from","type":"quantitative"},"x2":{"field":"to"},"y":{"field":"value","type":"quantitative"},
"fill":{"field":"tone","type":"nominal","legend":null,"scale":{"domain":["blue","red","pale","yellow","purple","ringRed","ringPurple","disc","usRed","usBlue","ukBlue","ukWhite","ukRed","bolt","dot"],"range":["#2962ff","#f23645","#e3effd","#fdd835","#7e57c2","#f23645","#9c27b0","#ffffff","#f23645","#2962ff","#1e4fa3","#ffffff","#f23645","#9c27b0","#f23645"]}}}},
{"data":{"name":"rsiTags"},"mark":{"type":"text","align":"center","baseline":"middle","font":"Open Sans","fontSize":11},
"encoding":{"x":{"field":"mid","type":"quantitative"},"y":{"field":"value","type":"quantitative"},"text":{"field":"text"},
"color":{"field":"ink","type":"nominal","legend":null,"scale":{"domain":["white","dark","grey","red","orange","pure","purple","yellow"],"range":["#ffffff","#131722","#b2b5be","#f7525f","#ff9800","#ff0000","#7e57c2","#fdd835"]}}}},
{"data":{"name":"rsiHeader"},"mark":{"type":"text","align":"left","baseline":"middle","font":"Open Sans"},
"encoding":{"x":{"field":"bar","type":"quantitative"},"y":{"field":"value","type":"quantitative"},"text":{"field":"text"},
"size":{"condition":{"test":"datum.tone=='grey'","value":11.55},"value":11},
"color":{"field":"tone","type":"nominal","legend":null,"scale":{"domain":["white","dark","grey","red","orange","pure","purple","yellow"],"range":["#ffffff","#131722","#b2b5be","#f7525f","#ff9800","#ff0000","#7e57c2","#fdd835"]}}}}
]
},
{
"width":1523,"height":60,
"view":{"fill":null,"stroke":null},
"layer":[
{"data":{"values":[{"bar":2.45,"row":0.5}]},"mark":{"type":"point","filled":true,"size":1024,"opacity":1,"strokeWidth":0,"fill":"#ffffff","shape":"M-1 -.5H-.2V.5H-.6V-.05H-1Z M-.1 -.25A.2 .2 0 1 1 .3 -.25A.2 .2 0 1 1 -.1 -.25Z M.55 -.5H1L.55 .5H.1Z"},
"encoding":{"x":{"field":"bar","type":"quantitative","axis":null,"scale":{"domain":[-0.388,253.5],"nice":false,"zero":false,"padding":0}},"y":{"field":"row","type":"quantitative","axis":null,"scale":{"domain":[0,1]}}}},
{"data":{"values":[{"bar":6.2,"row":0.5,"text":"TradingView"}]},"mark":{"type":"text","align":"left","baseline":"middle","font":"Open Sans","fontSize":20,"fontWeight":600,"color":"#ffffff"},
"encoding":{"x":{"field":"bar","type":"quantitative","axis":null},"y":{"field":"row","type":"quantitative","axis":null},"text":{"field":"text"}}}
]
}
]
}
